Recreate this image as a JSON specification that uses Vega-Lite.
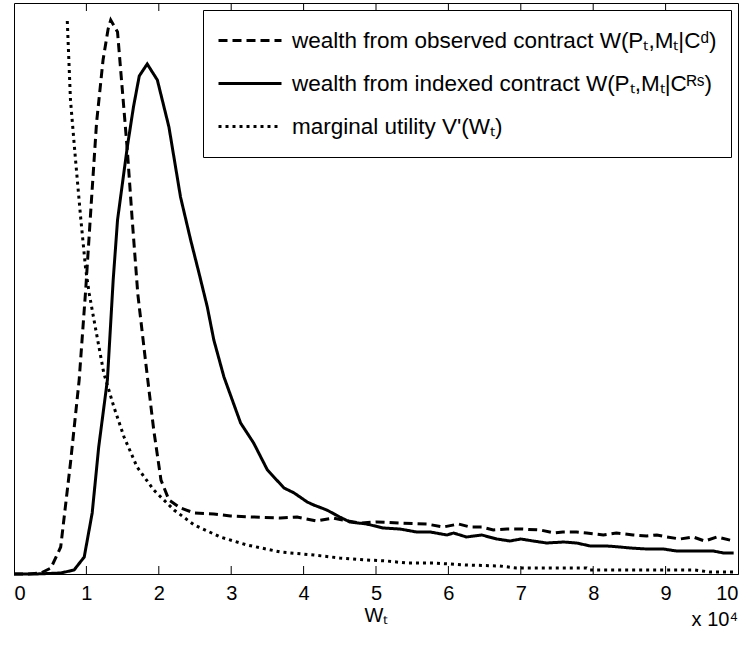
{
  "$schema": "https://vega.github.io/schema/vega-lite/v6.json",
  "width": 724,
  "height": 571,
  "autosize": "none",
  "padding": {"left": 14, "top": 3, "right": 13, "bottom": 72},
  "background": "white",
  "datasets": {
    "ticks": [
      {"w": 1}, {"w": 2}, {"w": 3}, {"w": 4}, {"w": 5}, {"w": 6}, {"w": 7}, {"w": 8}, {"w": 9}
    ]
  },
  "data": {
    "values": [
      {"series": "obs", "w": 0, "density": 0}, {"series": "obs", "w": 0.2, "density": 0}, {"series": "obs", "w": 0.37, "density": 1},
      {"series": "obs", "w": 0.51, "density": 6}, {"series": "obs", "w": 0.645, "density": 27}, {"series": "obs", "w": 0.78, "density": 111},
      {"series": "obs", "w": 0.9, "density": 194}, {"series": "obs", "w": 0.99, "density": 284}, {"series": "obs", "w": 1.07, "density": 374},
      {"series": "obs", "w": 1.14, "density": 451}, {"series": "obs", "w": 1.23, "density": 514}, {"series": "obs", "w": 1.3, "density": 545},
      {"series": "obs", "w": 1.336, "density": 554}, {"series": "obs", "w": 1.43, "density": 542}, {"series": "obs", "w": 1.47, "density": 507},
      {"series": "obs", "w": 1.565, "density": 424}, {"series": "obs", "w": 1.63, "density": 357}, {"series": "obs", "w": 1.71, "density": 280},
      {"series": "obs", "w": 1.82, "density": 211}, {"series": "obs", "w": 1.93, "density": 144}, {"series": "obs", "w": 2.03, "density": 94},
      {"series": "obs", "w": 2.14, "density": 74}, {"series": "obs", "w": 2.3, "density": 66}, {"series": "obs", "w": 2.49, "density": 61},
      {"series": "obs", "w": 2.76, "density": 60}, {"series": "obs", "w": 2.99, "density": 58}, {"series": "obs", "w": 3.31, "density": 57},
      {"series": "obs", "w": 3.68, "density": 56}, {"series": "obs", "w": 3.91, "density": 57}, {"series": "obs", "w": 4.18, "density": 53},
      {"series": "obs", "w": 4.41, "density": 56}, {"series": "obs", "w": 4.54, "density": 54}, {"series": "obs", "w": 4.78, "density": 51},
      {"series": "obs", "w": 5.01, "density": 52}, {"series": "obs", "w": 5.33, "density": 51}, {"series": "obs", "w": 5.7, "density": 50},
      {"series": "obs", "w": 5.93, "density": 47}, {"series": "obs", "w": 6.14, "density": 50}, {"series": "obs", "w": 6.3, "density": 47},
      {"series": "obs", "w": 6.46, "density": 47}, {"series": "obs", "w": 6.62, "density": 44}, {"series": "obs", "w": 6.81, "density": 45},
      {"series": "obs", "w": 7.0, "density": 45}, {"series": "obs", "w": 7.27, "density": 44}, {"series": "obs", "w": 7.46, "density": 41},
      {"series": "obs", "w": 7.58, "density": 42}, {"series": "obs", "w": 7.77, "density": 42}, {"series": "obs", "w": 7.91, "density": 41},
      {"series": "obs", "w": 8.14, "density": 39}, {"series": "obs", "w": 8.32, "density": 41}, {"series": "obs", "w": 8.55, "density": 39},
      {"series": "obs", "w": 8.74, "density": 38}, {"series": "obs", "w": 8.88, "density": 39}, {"series": "obs", "w": 9.02, "density": 37},
      {"series": "obs", "w": 9.2, "density": 35}, {"series": "obs", "w": 9.38, "density": 37}, {"series": "obs", "w": 9.54, "density": 33},
      {"series": "obs", "w": 9.71, "density": 37}, {"series": "obs", "w": 9.94, "density": 33},

      {"series": "idx", "w": 0, "density": 0}, {"series": "idx", "w": 0.3, "density": 0}, {"series": "idx", "w": 0.645, "density": 1},
      {"series": "idx", "w": 0.83, "density": 4}, {"series": "idx", "w": 0.97, "density": 17}, {"series": "idx", "w": 1.08, "density": 61},
      {"series": "idx", "w": 1.17, "density": 127}, {"series": "idx", "w": 1.29, "density": 194}, {"series": "idx", "w": 1.37, "density": 294},
      {"series": "idx", "w": 1.43, "density": 354}, {"series": "idx", "w": 1.565, "density": 427}, {"series": "idx", "w": 1.65, "density": 467},
      {"series": "idx", "w": 1.73, "density": 498}, {"series": "idx", "w": 1.84, "density": 510}, {"series": "idx", "w": 1.98, "density": 494},
      {"series": "idx", "w": 2.14, "density": 447}, {"series": "idx", "w": 2.3, "density": 377}, {"series": "idx", "w": 2.44, "density": 334},
      {"series": "idx", "w": 2.555, "density": 301}, {"series": "idx", "w": 2.67, "density": 267}, {"series": "idx", "w": 2.76, "density": 234},
      {"series": "idx", "w": 2.9, "density": 197}, {"series": "idx", "w": 3.13, "density": 151}, {"series": "idx", "w": 3.31, "density": 131},
      {"series": "idx", "w": 3.5, "density": 104}, {"series": "idx", "w": 3.73, "density": 86}, {"series": "idx", "w": 3.87, "density": 81},
      {"series": "idx", "w": 4.05, "density": 72}, {"series": "idx", "w": 4.14, "density": 69}, {"series": "idx", "w": 4.32, "density": 64},
      {"series": "idx", "w": 4.5, "density": 57}, {"series": "idx", "w": 4.64, "density": 52}, {"series": "idx", "w": 4.87, "density": 50},
      {"series": "idx", "w": 5.1, "density": 46}, {"series": "idx", "w": 5.33, "density": 45}, {"series": "idx", "w": 5.56, "density": 42},
      {"series": "idx", "w": 5.75, "density": 42}, {"series": "idx", "w": 5.98, "density": 39}, {"series": "idx", "w": 6.07, "density": 41},
      {"series": "idx", "w": 6.25, "density": 37}, {"series": "idx", "w": 6.46, "density": 39}, {"series": "idx", "w": 6.67, "density": 35},
      {"series": "idx", "w": 6.85, "density": 33}, {"series": "idx", "w": 7.0, "density": 35}, {"series": "idx", "w": 7.17, "density": 33},
      {"series": "idx", "w": 7.36, "density": 31}, {"series": "idx", "w": 7.59, "density": 32}, {"series": "idx", "w": 7.77, "density": 31},
      {"series": "idx", "w": 7.96, "density": 28}, {"series": "idx", "w": 8.19, "density": 28}, {"series": "idx", "w": 8.37, "density": 27},
      {"series": "idx", "w": 8.51, "density": 26}, {"series": "idx", "w": 8.74, "density": 25}, {"series": "idx", "w": 8.97, "density": 25},
      {"series": "idx", "w": 9.15, "density": 23}, {"series": "idx", "w": 9.38, "density": 23}, {"series": "idx", "w": 9.66, "density": 23},
      {"series": "idx", "w": 9.8, "density": 21}, {"series": "idx", "w": 9.94, "density": 21},

      {"series": "mu", "w": 0.736, "density": 553}, {"series": "mu", "w": 0.78, "density": 474}, {"series": "mu", "w": 0.85, "density": 414},
      {"series": "mu", "w": 0.92, "density": 357}, {"series": "mu", "w": 0.99, "density": 305}, {"series": "mu", "w": 1.04, "density": 280},
      {"series": "mu", "w": 1.105, "density": 254}, {"series": "mu", "w": 1.24, "density": 201}, {"series": "mu", "w": 1.38, "density": 167},
      {"series": "mu", "w": 1.52, "density": 137}, {"series": "mu", "w": 1.7, "density": 107}, {"series": "mu", "w": 1.93, "density": 84},
      {"series": "mu", "w": 2.21, "density": 64}, {"series": "mu", "w": 2.49, "density": 49}, {"series": "mu", "w": 2.85, "density": 37},
      {"series": "mu", "w": 3.22, "density": 29}, {"series": "mu", "w": 3.68, "density": 22}, {"series": "mu", "w": 4.14, "density": 19},
      {"series": "mu", "w": 4.5, "density": 16}, {"series": "mu", "w": 4.87, "density": 14}, {"series": "mu", "w": 5.15, "density": 13},
      {"series": "mu", "w": 5.42, "density": 11}, {"series": "mu", "w": 5.79, "density": 11}, {"series": "mu", "w": 6.02, "density": 10},
      {"series": "mu", "w": 6.25, "density": 9}, {"series": "mu", "w": 6.71, "density": 8}, {"series": "mu", "w": 6.94, "density": 6},
      {"series": "mu", "w": 7.91, "density": 6}, {"series": "mu", "w": 7.95, "density": 4}, {"series": "mu", "w": 8.83, "density": 4},
      {"series": "mu", "w": 9.4, "density": 4}, {"series": "mu", "w": 9.61, "density": 2}, {"series": "mu", "w": 9.94, "density": 2}
    ]
  },
  "title": {
    "text": "x 10⁴",
    "orient": "bottom",
    "anchor": "end",
    "frame": "group",
    "offset": -15,
    "fontSize": 20,
    "fontWeight": "normal",
    "font": "Liberation Sans",
    "color": "black"
  },
  "layer": [
    {
      "mark": {"type": "line", "strokeWidth": 3, "color": "black", "strokeCap": "butt"},
      "encoding": {
        "x": {
          "field": "w",
          "type": "quantitative",
          "scale": {"domain": [0, 10], "nice": false},
          "axis": {
            "orient": "bottom",
            "values": [0, 1, 2, 3, 4, 5, 6, 7, 8, 9, 10],
            "format": "d",
            "ticks": false,
            "labelPadding": 9,
            "title": "Wₜ",
            "titlePadding": 2
          }
        },
        "y": {
          "field": "density",
          "type": "quantitative",
          "scale": {"domain": [0, 571], "nice": false},
          "axis": null
        },
        "strokeDash": {
          "field": "series",
          "type": "nominal",
          "scale": {"domain": ["obs", "idx", "mu"], "range": [[9, 5], [1, 0], [3, 4]]},
          "legend": {
            "labelExpr": "datum.value == \"obs\" ? \"wealth from observed contract W(Pₜ,Mₜ|Cᵈ)\" : datum.value == \"idx\" ? \"wealth from indexed contract W(Pₜ,Mₜ|Cᴿˢ)\" : \"marginal utility V'(Wₜ)\""
          }
        }
      }
    },
    {
      "data": {"name": "ticks"},
      "mark": {"type": "rule", "color": "black", "strokeWidth": 1},
      "encoding": {
        "x": {"field": "w", "type": "quantitative"},
        "y": {"datum": 0},
        "y2": {"datum": 8}
      }
    },
    {
      "data": {"name": "ticks"},
      "mark": {"type": "rule", "color": "black", "strokeWidth": 1},
      "encoding": {
        "x": {"field": "w", "type": "quantitative"},
        "y": {"datum": 563},
        "y2": {"datum": 571}
      }
    }
  ],
  "config": {
    "font": "Liberation Sans",
    "view": {"stroke": "black", "strokeWidth": 1},
    "axis": {
      "grid": false,
      "domainColor": "black",
      "labelColor": "black",
      "labelFontSize": 20,
      "labelFont": "Liberation Sans",
      "titleFontSize": 20,
      "titleFont": "Liberation Sans",
      "titleFontWeight": "normal",
      "titleColor": "black"
    },
    "legend": {
      "orient": "top-right",
      "offset": 7,
      "title": null,
      "symbolType": "stroke",
      "symbolSize": 3969,
      "symbolStrokeWidth": 3,
      "symbolStrokeColor": "black",
      "clipHeight": 33,
      "rowPadding": 10,
      "padding": 14,
      "labelOffset": 9,
      "labelFontSize": 22.5,
      "labelFont": "Liberation Sans",
      "labelColor": "black",
      "labelLimit": 700,
      "strokeColor": "black",
      "fillColor": "white"
    }
  }
}
